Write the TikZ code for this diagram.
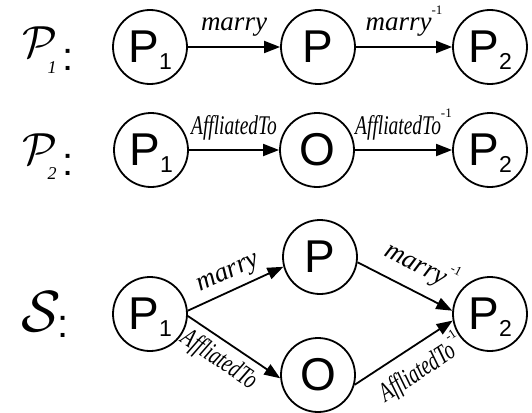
\documentclass[tikz,border=0pt]{standalone}
\usepackage{fontspec}
\setmainfont{Liberation Serif}
\newfontfamily\sansnode{Liberation Sans}
\newfontfamily\narrowserif[FakeStretch=0.72]{Liberation Serif}
\usetikzlibrary{arrows.meta}

% vertex text: letter with a lowered index that does not shift the centring
\newcommand\vsub[2]{#1\kern0.5pt\raisebox{-0.14em}[0pt][0pt]{\fontsize{23}{23}\selectfont #2}}
% inverse-relation exponent
\newcommand\inv{\raisebox{0.6em}{\upshape\fontsize{13}{13}\selectfont -1}}
% condensed relation name
\newcommand\aff{{\narrowserif\itshape AffliatedTo}}

\tikzset{
  vertex/.style={circle, draw, line width=1.8pt, minimum size=74pt, inner sep=0pt,
                 font=\sansnode\fontsize{46}{46}\selectfont},
  rel/.style={line width=1.8pt, -{Triangle[length=16pt,width=12pt]}},
  lbl/.style={font=\itshape\fontsize{27}{27}\selectfont, inner sep=1pt},
  flatlbl/.style={lbl, midway, anchor=base, yshift=16pt},
  pathname/.style={inner sep=0pt},
  pathidx/.style={inner sep=0pt, font=\itshape\fontsize{18}{18}\selectfont},
  pathcolon/.style={inner sep=0pt, font=\sansnode\fontsize{40}{40}\selectfont},
}

\begin{document}
\begin{tikzpicture}[x=1pt,y=-1pt]
\useasboundingbox (0,0) rectangle (532,412);

% path P1
\node[pathname] (n1) at (40,42) {\scalebox{4.5}{$\mathcal{P}$}};
\node[pathidx] (i1) at (52,68) {1};
\node[pathcolon] (c1) at (68,60) {:};
\node[vertex] (a1) at (150,47) {\vsub{P}{1}};
\node[vertex] (b1) at (318,47) {P};
\node[vertex] (d1) at (490,47) {\vsub{P}{2}};
\draw[rel] (a1) -- node[flatlbl] {marry} (b1);
\draw[rel] (b1) -- node[flatlbl] {marry\inv} (d1);

% path P2
\node[pathname] (n2) at (40,149) {\scalebox{4.5}{$\mathcal{P}$}};
\node[pathidx] (i2) at (52,174) {2};
\node[pathcolon] (c2) at (68,165) {:};
\node[vertex] (a2) at (151,150) {\vsub{P}{1}};
\node[vertex] (b2) at (317,150) {O};
\node[vertex] (d2) at (490,150) {\vsub{P}{2}};
\draw[rel] (a2) -- node[flatlbl] {\aff} (b2);
\draw[rel] (b2) -- node[flatlbl] {\aff\inv} (d2);

% combined schema S
\node[pathname] (n3) at (41,312) {\scalebox{5.8}{$\mathcal{S}$}};
\node[pathcolon] (c3) at (63,327) {:};
\node[vertex] (a3) at (150,314) {\vsub{P}{1}};
\node[vertex] (b3) at (320,257) {P};
\node[vertex] (o3) at (318,375) {O};
\node[vertex] (d3) at (490,314) {\vsub{P}{2}};
\draw[rel] (a3.5) -- node[lbl, sloped, midway, above=4pt] {marry} (b3.195);
\draw[rel] (a3.-3) -- node[lbl, sloped, pos=0.45, below=5pt] {\aff} (o3.185);
\draw[rel] (b3.-8) -- node[lbl, sloped, pos=0.55, above=10pt] {marry\inv} (d3.175);
\draw[rel] (o3.-15) -- node[lbl, sloped, pos=0.55, below=5pt] {\aff\inv} (d3.190);
\end{tikzpicture}
\end{document}
